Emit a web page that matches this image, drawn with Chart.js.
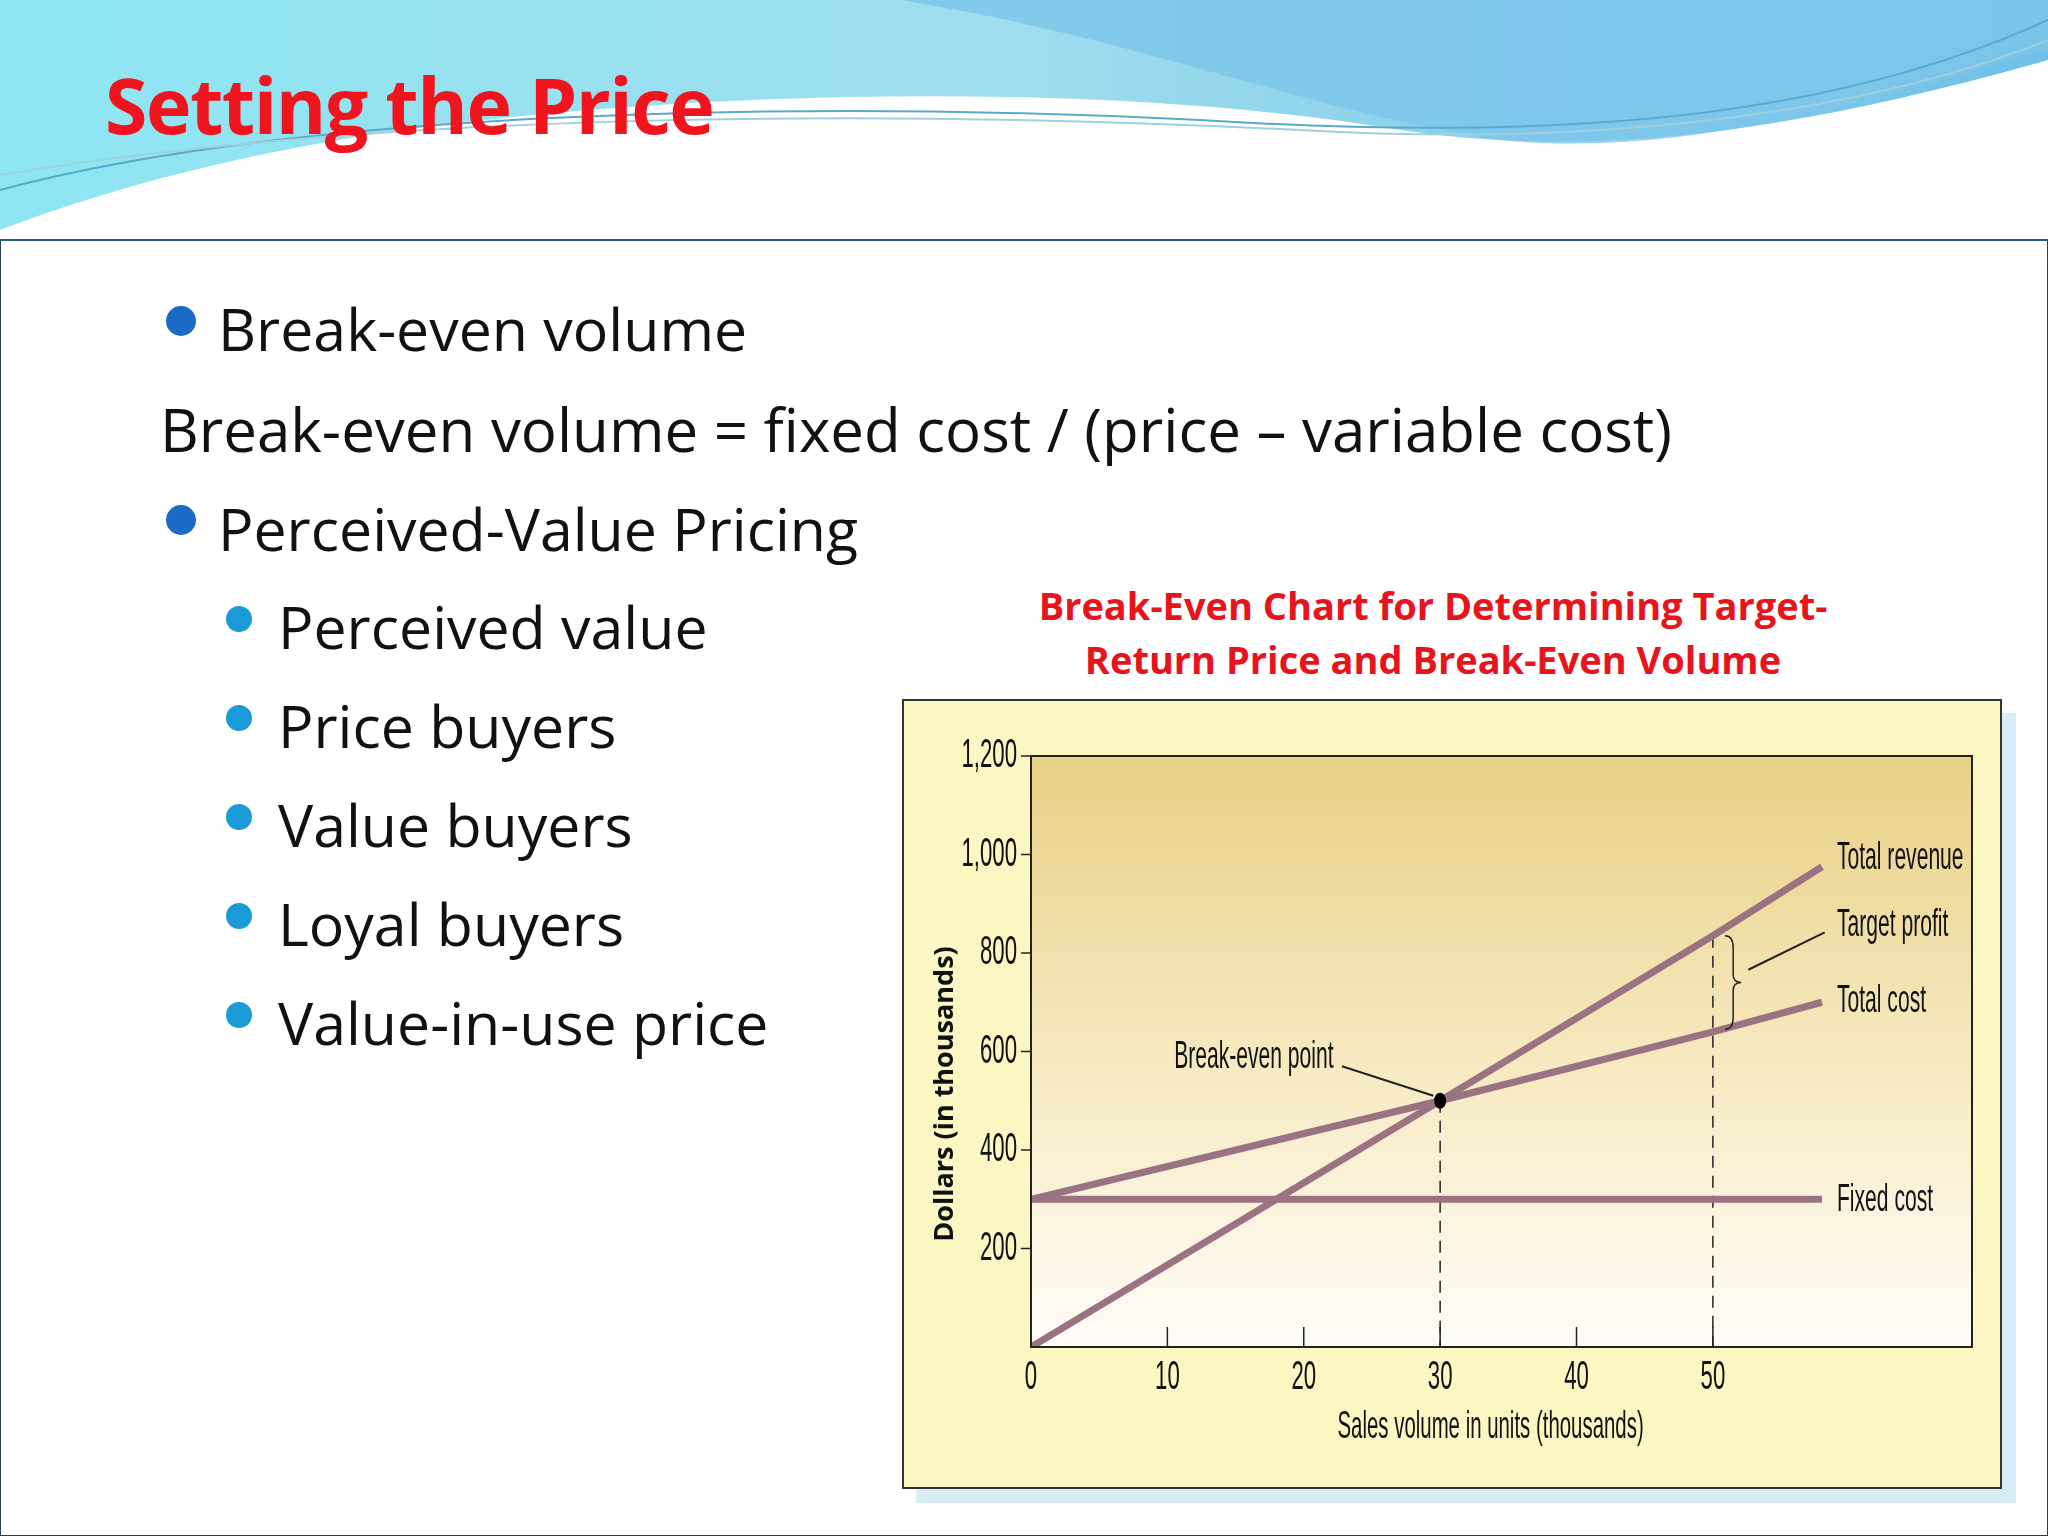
<!DOCTYPE html>
<html><head><meta charset="utf-8">
<script src="https://cdn.jsdelivr.net/npm/chart.js@4"></script>
<style>
body{margin:0;width:2048px;height:1536px;background:#fff;font-family:"Open Sans",Calibri,sans-serif;position:relative;overflow:hidden}
#page{position:absolute;left:0;top:0;width:2046px;height:1534px;border:1px solid #1f3f5f;background:#fff}
#head{position:absolute;left:0;top:0;width:2048px;height:239px;border-bottom:2px solid #2b5b7b;background:#fff}
h1{position:absolute;left:105px;top:52px;margin:0;font-family:"Open Sans",sans-serif;font-weight:700;font-size:77px;color:#f0141e;letter-spacing:-1.5px}
.t{position:absolute;color:#111;white-space:nowrap;font-size:59px}
.b1{left:218px}
.b0{left:160px;font-size:60px}
.b2{left:278px}
.dot{position:absolute;border-radius:50%}
#ctitle{position:absolute;left:1000px;width:866px;top:578px;text-align:center;color:#e8141c;font-weight:700;font-size:38px;line-height:54px}
#box{position:absolute;left:902px;top:699px;width:1096px;height:786px;background:#fbf6c2;border:2px solid #333;box-shadow:14px 14px 0 #d7ecf4}
</style></head><body>
<div id="page"></div>
<div id="head">
<svg width="2048" height="239" viewBox="0 0 2048 239">
<defs><linearGradient id="g1" x1="0" x2="1"><stop offset="0" stop-color="#8ee6f2"/><stop offset="0.5" stop-color="#9fdcee"/><stop offset="1" stop-color="#6fc0e6"/></linearGradient></defs>
<path d="M0 0 H2048 V60 C1800 130 1600 160 1400 130 C1100 80 700 90 400 130 C200 160 80 200 0 230 Z" fill="url(#g1)"/>
<path d="M900 0 C1150 40 1300 110 1500 140 C1700 160 1900 90 2048 50 V0 Z" fill="#7cc6ea" opacity="0.8"/>
<path d="M0 190 C300 110 800 100 1200 120 C1600 145 1850 110 2048 20" stroke="#5aa9c9" stroke-width="2" fill="none"/>
<path d="M0 175 C400 110 900 110 1300 130 C1650 150 1900 100 2048 40" stroke="#9fd0df" stroke-width="2" fill="none"/>
</svg>
</div>
<h1>Setting the Price</h1>
<div class="dot" style="left:166px;top:306px;width:30px;height:30px;background:#1a6ac6"></div>
<div class="t b1" style="top:288px">Break-even volume</div>
<div class="t b0" style="top:388px">Break-even volume = fixed cost / (price – variable cost)</div>
<div class="dot" style="left:166px;top:505px;width:30px;height:30px;background:#1a6ac6"></div>
<div class="t b1" style="top:488px">Perceived-Value Pricing</div>
<div class="dot" style="left:226px;top:606px;width:26px;height:26px;background:#1a9ad6"></div>
<div class="t b2" style="top:586px">Perceived value</div>
<div class="dot" style="left:226px;top:705px;width:26px;height:26px;background:#1a9ad6"></div>
<div class="t b2" style="top:685px">Price buyers</div>
<div class="dot" style="left:226px;top:804px;width:26px;height:26px;background:#1a9ad6"></div>
<div class="t b2" style="top:784px">Value buyers</div>
<div class="dot" style="left:226px;top:903px;width:26px;height:26px;background:#1a9ad6"></div>
<div class="t b2" style="top:883px">Loyal buyers</div>
<div class="dot" style="left:226px;top:1002px;width:26px;height:26px;background:#1a9ad6"></div>
<div class="t b2" style="top:982px">Value-in-use price</div>
<div id="ctitle">Break-Even Chart for Determining Target-<br>Return Price and Break-Even Volume</div>
<div id="box"><canvas id="c" width="1096" height="786"></canvas></div>
<script>
// values (dollars and units in thousands)
const volume = [0, 30, 50, 58];
const totalRevenue = [0, 500, 835, 975];
const totalCost = [300, 500, 640, 700];
const fixedCost = [300, 300, 300, 300];
const xTicks = [0, 10, 20, 30, 40, 50];
const yTicks = [200, 400, 600, 800, 1000, 1200];
const breakEven = {x: 30, y: 500};
const targetVolume = 50;

const lineCol = '#9a7282';
const pts = ys => volume.map((v, i) => ({x: v, y: ys[i]}));

// condensed text, like the narrow face of the original figure
function narrowText(ctx, s, x, y, size, align, sx) {
  ctx.save();
  ctx.font = size + 'px "Liberation Sans", Arial, sans-serif';
  ctx.textBaseline = 'middle';
  ctx.textAlign = align;
  ctx.translate(x, y); ctx.scale(sx, 1.12);
  ctx.fillText(s, 0, 0);
  ctx.restore();
}

const decor = {
  id: 'decor',
  beforeDatasetsDraw(chart) {
    const {ctx, chartArea: a} = chart;
    const g = ctx.createLinearGradient(0, a.top, 0, a.bottom);
    g.addColorStop(0, '#e8d085'); g.addColorStop(0.55, '#f7ebc4'); g.addColorStop(1, '#fffcf8');
    ctx.save();
    ctx.fillStyle = g;
    ctx.fillRect(a.left, a.top, a.right - a.left, a.bottom - a.top);
    const xs = chart.scales.x, ys = chart.scales.y;
    ctx.strokeStyle = '#222'; ctx.lineWidth = 1.5; ctx.setLineDash([12, 8]);
    [[breakEven.x, breakEven.y], [targetVolume, totalRevenue[2]]].forEach(([vx, vy]) => {
      ctx.beginPath(); ctx.moveTo(xs.getPixelForValue(vx), ys.getPixelForValue(vy));
      ctx.lineTo(xs.getPixelForValue(vx), a.bottom); ctx.stroke();
    });
    ctx.restore();
  },
  afterDatasetsDraw(chart) {
    const {ctx, chartArea: a} = chart;
    const xs = chart.scales.x, ys = chart.scales.y;
    const X = v => xs.getPixelForValue(v), Y = v => ys.getPixelForValue(v);
    ctx.save();
    ctx.strokeStyle = '#222'; ctx.lineWidth = 2;
    ctx.strokeRect(a.left, a.top, a.right - a.left, a.bottom - a.top);
    ctx.lineWidth = 1.5;
    yTicks.forEach(v => { ctx.beginPath(); ctx.moveTo(a.left - 10, Y(v)); ctx.lineTo(a.left, Y(v)); ctx.stroke(); });
    xTicks.slice(1).forEach(v => { ctx.beginPath(); ctx.moveTo(X(v), a.bottom); ctx.lineTo(X(v), a.bottom - 20); ctx.stroke(); });
    ctx.fillStyle = '#000';
    ctx.beginPath(); ctx.ellipse(X(breakEven.x), Y(breakEven.y), 6, 8, 0, 0, Math.PI * 2); ctx.fill();
    // tick labels
    ctx.fillStyle = '#111';
    yTicks.forEach(v => narrowText(ctx, v.toLocaleString('en-US'), a.left - 14, Y(v), 37, 'right', 0.6));
    xTicks.forEach(v => narrowText(ctx, String(v), X(v), a.bottom + 31, 37, 'center', 0.6));
    narrowText(ctx, 'Sales volume in units (thousands)', X(33.7), a.bottom + 80, 34, 'center', 0.6);
    // y title
    ctx.save();
    ctx.translate(41, a.top + 338); ctx.rotate(-Math.PI / 2);
    ctx.font = 'bold 27px "Open Sans", sans-serif'; ctx.textAlign = 'center'; ctx.textBaseline = 'middle';
    ctx.fillText('Dollars (in thousands)', 0, 0);
    ctx.restore();
    // line labels
    const lx = X(59.1);
    narrowText(ctx, 'Total revenue', lx, Y(991), 34, 'left', 0.62);
    narrowText(ctx, 'Target profit', lx, Y(856), 34, 'left', 0.62);
    narrowText(ctx, 'Total cost', lx, Y(702), 34, 'left', 0.62);
    narrowText(ctx, 'Fixed cost', lx, Y(297), 34, 'left', 0.62);
    narrowText(ctx, 'Break-even point', X(10.5), Y(588), 34, 'left', 0.62);
    ctx.lineWidth = 2;
    ctx.beginPath(); ctx.moveTo(X(22.8), Y(570)); ctx.lineTo(X(29.5), Y(510)); ctx.stroke();
    ctx.beginPath(); ctx.moveTo(X(52.6), Y(766)); ctx.lineTo(X(58.2), Y(842)); ctx.stroke();
    // brace
    const bx = X(50.9), t = Y(835), b = Y(645), m = (t + b) / 2;
    ctx.lineWidth = 1.5;
    ctx.beginPath();
    ctx.moveTo(bx, t); ctx.quadraticCurveTo(bx + 8, t, bx + 8, t + 12);
    ctx.lineTo(bx + 8, m - 8); ctx.quadraticCurveTo(bx + 8, m, bx + 16, m);
    ctx.quadraticCurveTo(bx + 8, m, bx + 8, m + 8);
    ctx.lineTo(bx + 8, b - 12); ctx.quadraticCurveTo(bx + 8, b, bx, b);
    ctx.stroke();
    ctx.restore();
  }
};

const ds = ys => ({data: pts(ys), borderColor: lineCol, borderWidth: 7, pointRadius: 0, tension: 0, borderCapStyle: 'butt'});

new Chart(document.getElementById('c'), {
  type: 'line',
  data: {datasets: [ds(fixedCost), ds(totalCost), ds(totalRevenue)]},
  options: {
    responsive: false, animation: false,
    layout: {padding: {top: 55, right: 28, left: 0, bottom: 0}},
    plugins: {legend: {display: false}, tooltip: {enabled: false}},
    scales: {
      x: {type: 'linear', min: 0, max: 69,
        afterFit: s => { s.height = 140; },
        grid: {display: false}, border: {display: false}, ticks: {display: false}},
      y: {min: 0, max: 1200,
        afterFit: s => { s.width = 127; },
        grid: {display: false}, border: {display: false}, ticks: {display: false}}
    }
  },
  plugins: [decor]
});
</script>
</body></html>
